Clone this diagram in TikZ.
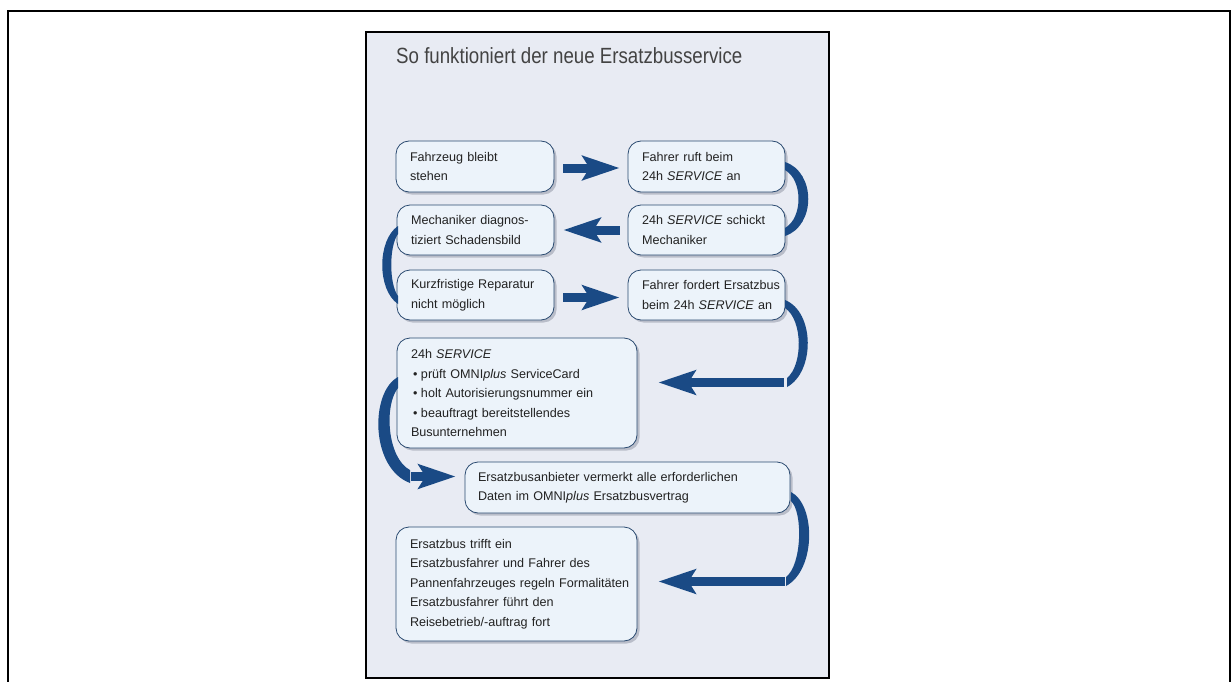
\documentclass[tikz,border=0pt]{standalone}
\usepackage{fontspec}
\setmainfont{Liberation Sans}
\newfontfamily\titlefont[FakeStretch=0.85]{Liberation Sans}
\usetikzlibrary{arrows.meta,calc,shadows}
\definecolor{panelbg}{HTML}{E8EBF3}
\definecolor{boxfill}{HTML}{ECF3FA}
\definecolor{boxline}{HTML}{2A4A70}
\definecolor{shadowc}{HTML}{B9BDC9}
\definecolor{arrowblue}{HTML}{1A4A85}
\definecolor{txt}{HTML}{222222}
\begin{document}
\begin{tikzpicture}[x=1pt,y=-1pt,
  flowbox/.style={draw=boxline, line width=0.8pt, fill=boxfill, rounded corners=13pt,
    drop shadow={shadow xshift=2.5pt, shadow yshift=-2.5pt, fill=shadowc, opacity=1},
    inner xsep=14pt, inner ysep=0pt, align=left, text=txt,
    font=\fontsize{12.6}{19.5}\selectfont},
  fat/.style={draw=arrowblue, line width=9pt,
    -{Stealth[length=37pt,width=24pt,inset=7pt]}},
  crescent/.style={fill=arrowblue, draw=none}]
\useasboundingbox (0,0) rectangle (1231,682);
% outer frame (open at the bottom)
\draw[line width=2pt] (8,682) -- (8,11) -- (1229.5,11) -- (1229.5,682);
% panel
\draw[fill=panelbg, line width=1.5pt] (366,32) rectangle (829,678);
% title
\node[anchor=base west, inner sep=0pt, text=txt!85!white,
  font=\titlefont\fontsize{22}{26}\selectfont] (title) at (396,64)
  {So funktioniert der neue Ersatzbusservice};
% boxes
\node[flowbox, text width=130pt, minimum height=51pt] (b1) at (475,166.5)
  {\mbox{Fahrzeug bleibt}\\\mbox{stehen}};
\node[flowbox, text width=129pt, minimum height=51pt] (b2) at (706.5,166.5)
  {\mbox{Fahrer ruft beim}\\\mbox{24h \textit{SERVICE} an}};
\node[flowbox, text width=129pt, minimum height=50pt] (b3) at (475.5,230)
  {\mbox{Mechaniker diagnos-}\\\mbox{tiziert Schadensbild}};
\node[flowbox, text width=129pt, minimum height=50pt] (b4) at (706.5,230)
  {\mbox{24h \textit{SERVICE} schickt}\\\mbox{Mechaniker}};
\node[flowbox, text width=129pt, minimum height=50pt] (b5) at (475.5,295)
  {\mbox{Kurzfristige Reparatur}\\\mbox{nicht möglich}};
\node[flowbox, text width=129pt, minimum height=50pt] (b6) at (706.5,295)
  {\mbox{Fahrer fordert Ersatzbus}\\\mbox{beim 24h \textit{SERVICE} an}};
\node[flowbox, text width=212pt, minimum height=110pt] (b7) at (517,393)
  {\mbox{24h \textit{SERVICE}}\\
   \mbox{\hspace*{2pt}\makebox[8pt][l]{•}prüft OMNI\textit{plus} ServiceCard}\\
   \mbox{\hspace*{2pt}\makebox[8pt][l]{•}holt Autorisierungsnummer ein}\\
   \mbox{\hspace*{2pt}\makebox[8pt][l]{•}beauftragt bereitstellendes}\\
   \mbox{Busunternehmen}};
\node[flowbox, text width=299pt, inner xsep=13pt, minimum height=51pt] (b8) at (627.5,487.5)
  {\mbox{Ersatzbusanbieter vermerkt alle erforderlichen}\\\mbox{Daten im OMNI\textit{plus} Ersatzbusvertrag}};
\node[flowbox, text width=213pt, minimum height=114pt] (b9) at (516.5,584)
  {\mbox{Ersatzbus trifft ein}\\\mbox{Ersatzbusfahrer und Fahrer des}\\\mbox{Pannenfahrzeuges regeln Formalitäten}\\\mbox{Ersatzbusfahrer führt den}\\\mbox{Reisebetrieb/-auftrag fort}};
% straight arrows
\draw[fat, shorten <=9pt, shorten >=8pt] ($(b1.east)+(0,1.5)$) -- ($(b2.west)+(0,1.5)$);
\draw[fat, shorten <=8pt, shorten >=9pt] (b4.west) -- (b3.east);
\draw[fat, shorten <=9pt, shorten >=8pt] ($(b5.east)+(0,2.5)$) -- ($(b6.west)+(0,2.5)$);
% b2 -> b4
\fill[crescent] (785,162) .. controls (816,172) and (816,226) .. (785,236)
  -- (785,228) .. controls (803,218) and (803,180) .. (785,170) -- cycle;
% b3 -> b5
\fill[crescent] (398,226) .. controls (377,240) and (377,290) .. (398,304)
  -- (398,296) .. controls (389,284) and (389,246) .. (398,234) -- cycle;
% b6 -> b7
\coordinate (c4) at (784,382.5);
\fill[crescent] (785,300) .. controls (815,312) and (815,372) .. (787,387)
  -- (787,378) .. controls (803,365) and (803,320) .. (785,308) -- cycle;
\draw[fat, shorten >=21pt] (c4) -- (b7.east |- c4);
% b7 -> b8
\coordinate (c6) at (411,476.5);
\fill[crescent] (398,377) .. controls (370,392) and (370,468) .. (410,483)
  -- (410,470) .. controls (387,458) and (384,405) .. (398,388) -- cycle;
\draw[fat, shorten >=9pt] (c6) -- (b8.west |- c6);
% b8 -> b9
\coordinate (c5) at (785,581.5);
\fill[crescent] (791,492) .. controls (816,505) and (816,570) .. (786,586)
  -- (786,577) .. controls (802,565) and (803,512) .. (791,501) -- cycle;
\draw[fat, shorten >=21pt] (c5) -- (b9.east |- c5);
\end{tikzpicture}
\end{document}
